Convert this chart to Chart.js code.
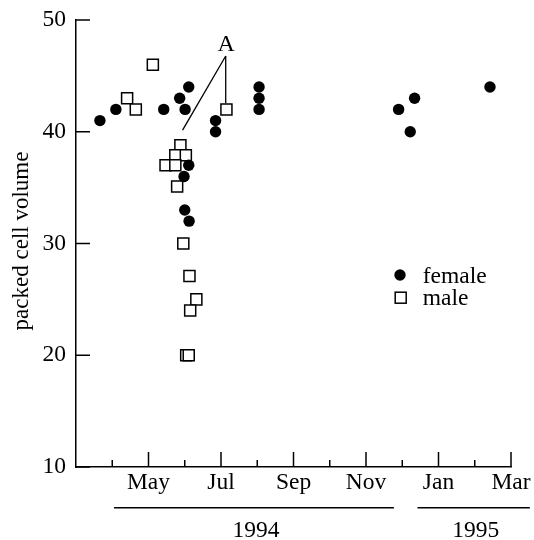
<!DOCTYPE html>
<html>
<head>
<meta charset="utf-8">
<script src="https://cdn.jsdelivr.net/npm/chart.js@4"></script>
<style>
  body { margin: 0; background: #fff; }
  #wrap { width: 534px; height: 540px; }
</style>
</head>
<body>
<div id="wrap"><canvas id="pcv_chart"></canvas></div>
<script>
///////////   DATA  /////////////////
// x = month number counted from Jan 1994 (13 = Jan 1995)

const femaleMonth = [3.66, 4.10, 5.42, 5.86, 6.01, 6.11, 6.85, 6.85, 8.05, 8.05, 8.05, 6.11, 5.98, 6.00, 6.12, 11.90, 12.22, 12.34, 14.42];
const femalePcv   = [41, 42, 42, 43, 42, 44, 41, 40, 44, 43, 42, 37, 36, 33, 32, 42, 40, 43, 44];

const maleMonth = [4.41, 4.65, 5.12, 7.15, 5.88, 5.74, 6.03, 5.47, 5.74, 5.79, 5.96, 6.13, 6.32, 6.15, 6.04, 6.11];
const malePcv   = [43, 42, 46, 42, 38.8, 37.9, 37.9, 37, 37, 35.1, 30, 27.1, 25, 24, 20, 20];

const tickMonths = [5, 7, 9, 11, 13, 15];
const tickNames  = ["May", "Jul", "Sep", "Nov", "Jan", "Mar"];

const yearNames = ["1994", "1995"];
const yearFrom  = [4.05, 12.42];
const yearTo    = [11.77, 15.52];

// annotation "A": apex and the two points it marks
const noteApex = [7.13, 46.78];
const noteEnds = [[5.94, 40.15], [7.13, 42.54]];

const FONT = "'Liberation Serif', 'DejaVu Serif', serif";

const toXY = (xs, ys) => xs.map((x, i) => ({ x: x, y: ys[i] }));

////////////// extra drawing: inward ticks, years, note, legend /////////////

const extras = {
  id: "extras",
  afterDraw(chart) {
    const ctx = chart.ctx;
    const xs = chart.scales.x;
    const ys = chart.scales.y;
    const area = chart.chartArea;

    ctx.save();
    ctx.strokeStyle = "#000";
    ctx.fillStyle = "#000";
    ctx.lineWidth = 1.5;

    // x ticks pointing up
    for (let m = 4; m <= 15; m += 1) {
      const px = xs.getPixelForValue(m);
      const len = m % 2 === 1 ? 15 : 7;
      ctx.beginPath();
      ctx.moveTo(px, area.bottom);
      ctx.lineTo(px, area.bottom - len);
      ctx.stroke();
    }
    // y ticks pointing right
    for (let v = 10; v <= 50; v += 10) {
      const py = ys.getPixelForValue(v);
      ctx.beginPath();
      ctx.moveTo(area.left, py);
      ctx.lineTo(area.left + 14, py);
      ctx.stroke();
    }

    // year brackets
    ctx.font = "23.5px " + FONT;
    ctx.textAlign = "center";
    ctx.textBaseline = "alphabetic";
    for (let i = 0; i < yearNames.length; i += 1) {
      const a = xs.getPixelForValue(yearFrom[i]);
      const b = xs.getPixelForValue(yearTo[i]);
      ctx.beginPath();
      ctx.moveTo(a, 507.7);
      ctx.lineTo(b, 507.7);
      ctx.stroke();
      ctx.fillText(yearNames[i], (a + b) / 2 + 2, 537);
    }

    // annotation A
    const ax = xs.getPixelForValue(noteApex[0]);
    const ay = ys.getPixelForValue(noteApex[1]);
    ctx.lineWidth = 1.3;
    noteEnds.forEach(p => {
      ctx.beginPath();
      ctx.moveTo(ax, ay);
      ctx.lineTo(xs.getPixelForValue(p[0]), ys.getPixelForValue(p[1]));
      ctx.stroke();
    });
    ctx.font = "24px " + FONT;
    ctx.fillText("A", ax + 0.5, ay - 5);

    // legend
    ctx.font = "23.5px " + FONT;
    ctx.textAlign = "left";
    ctx.beginPath();
    ctx.arc(400, 275, 5.7, 0, Math.PI * 2);
    ctx.fill();
    ctx.lineWidth = 1.5;
    ctx.strokeRect(395.2, 292.2, 11, 11);
    ctx.fillText("female", 422.7, 283);
    ctx.fillText("male", 422.7, 305);

    // y title
    ctx.translate(28, 241);
    ctx.rotate(-Math.PI / 2);
    ctx.textAlign = "center";
    ctx.font = "23px " + FONT;
    ctx.fillText("packed cell volume", 0, 0);

    ctx.restore();
  }
};

////////////// SCATTER /////////////

new Chart(document.querySelector("#pcv_chart"), {
  type: "scatter",
  data: {
    datasets: [
      {
        label: "male",
        data: toXY(maleMonth, malePcv),
        pointStyle: "rect",
        pointRadius: 7.8,
        pointHoverRadius: 7.8,
        backgroundColor: "#fff",
        borderColor: "#000",
        borderWidth: 1.5,
        order: 2
      },
      {
        label: "female",
        data: toXY(femaleMonth, femalePcv),
        pointStyle: "circle",
        pointRadius: 5.7,
        pointHoverRadius: 5.7,
        backgroundColor: "#000",
        borderColor: "#000",
        borderWidth: 0,
        order: 1
      }
    ]
  },
  options: {
    responsive: true,
    maintainAspectRatio: false,
    animation: false,
    events: [],
    layout: { padding: { left: 14, right: 23, top: 20, bottom: 42 } },
    plugins: {
      legend: { display: false },
      tooltip: { enabled: false }
    },
    scales: {
      x: {
        type: "linear",
        min: 3,
        max: 15,
        afterFit: s => { s.height = 31; s.paddingLeft = 0; s.paddingRight = 0; },
        afterBuildTicks: s => { s.ticks = tickMonths.map(m => ({ value: m })); },
        ticks: {
          autoSkip: false,
          maxRotation: 0,
          padding: 2,
          color: "#000",
          font: { family: FONT, size: 23.5 },
          callback: v => tickNames[tickMonths.indexOf(v)] || ""
        },
        grid: { display: false, drawTicks: false },
        border: { display: true, color: "#000", width: 1.5 }
      },
      y: {
        min: 10,
        max: 50,
        afterFit: s => { s.width = 62; s.paddingTop = 0; s.paddingBottom = 0; },
        ticks: {
          stepSize: 10,
          padding: 10,
          color: "#000",
          font: { family: FONT, size: 23.5 }
        },
        grid: { display: false, drawTicks: false },
        border: { display: true, color: "#000", width: 1.5 }
      }
    }
  },
  plugins: [extras]
});
</script>
</body>
</html>
